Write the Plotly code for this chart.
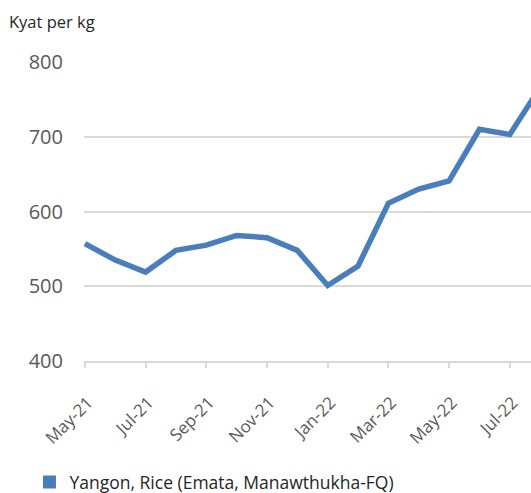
import plotly.graph_objects as go

months = ["May-21", "Jun-21", "Jul-21", "Aug-21", "Sep-21", "Oct-21", "Nov-21", "Dec-21",
          "Jan-22", "Feb-22", "Mar-22", "Apr-22", "May-22", "Jun-22", "Jul-22", "Aug-22"]
prices = [557, 535, 519, 548, 555, 568, 565, 548, 501, 527, 611, 630, 641, 710, 703, 766]
series_name = "Yangon, Rice (Emata, Manawthukha-FQ)"
tick_labels = months[::2]

x_idx = list(range(len(months)))
color = "#4a7dbb"

fig = go.Figure()
fig.add_trace(go.Scatter(x=x_idx, y=prices, mode="lines",
                         line=dict(color=color, width=5.5),
                         showlegend=False, cliponaxis=True))
fig.add_trace(go.Scatter(x=[None], y=[None], mode="markers", name=series_name,
                         marker=dict(symbol="square", size=13, color=color)))

fig.update_layout(
    width=531, height=493,
    margin=dict(l=84, r=0, t=62, b=132, autoexpand=False),
    plot_bgcolor="white", paper_bgcolor="white",
    font=dict(family="Open Sans, sans-serif", color="#595959"),
    showlegend=True,
    legend=dict(orientation="h", x=-0.122, xref="paper", xanchor="left",
                y=-0.405, yanchor="middle",
                font=dict(size=17.5, color="#262626"), itemwidth=30),
    annotations=[dict(text="Kyat per kg", xref="paper", yref="paper",
                      x=-0.172, y=1.134, xanchor="left", yanchor="middle",
                      showarrow=False, font=dict(size=16.5, color="#262626"))],
)
fig.update_xaxes(
    range=[-0.03, 14.70], tickmode="array", automargin=False,
    tickvals=x_idx[::2], ticktext=tick_labels, tickangle=-45,
    tickfont=dict(size=17, color="#595959"),
    showgrid=False, showline=True, linecolor="#d9d9d9", linewidth=2,
    ticks="outside", ticklen=5, tickcolor="#d9d9d9", tickwidth=2,
    zeroline=False, ticklabelstandoff=18, ticklabelshift=3,
)
fig.update_yaxes(
    range=[400, 800], tickvals=[400, 500, 600, 700, 800], automargin=False,
    tickfont=dict(size=20, color="#595959"),
    showgrid=True, gridcolor="#d9d9d9", gridwidth=2,
    zeroline=False, showline=False, ticklabelstandoff=20,
)

fig.write_html("out.html", config={"displayModeBar": False},
               post_script="document.body.style.margin='0';document.body.style.padding='0';")
